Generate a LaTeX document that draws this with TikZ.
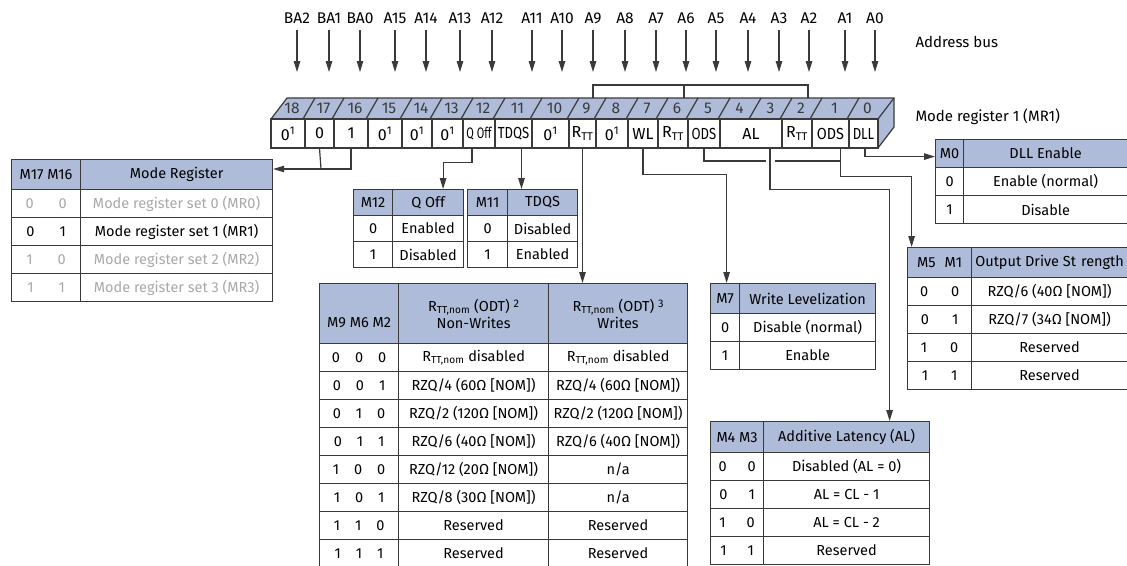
\documentclass[tikz,border=0pt]{standalone}
\usepackage{fontspec}
\setmainfont{Fira Sans}
\usepackage{xcolor}
\definecolor{regBlue}{HTML}{AEBCDA}
\definecolor{regLine}{HTML}{3A3A3A}
\definecolor{regGray}{HTML}{A8A8A8}
\usepackage{tikz}
\usetikzlibrary{arrows.meta}

\newcommand{\odtnote}[1]{\raisebox{4pt}{\fontsize{11}{13}\selectfont #1}}

\begin{document}
\begin{tikzpicture}[x=1pt, y=-1pt, >={Triangle[length=11pt,width=6.5pt]},
    tcell/.style={draw=regLine, line width=1.2pt, inner sep=0pt, anchor=north west,
      minimum height=28pt, align=center, font=\fontsize{14.5}{17}\selectfont},
    thead/.style={tcell, fill=regBlue},
    wire/.style={regLine, line width=1.2pt},
    addr/.style={font=\fontsize{15.5}{17}\selectfont, inner sep=1pt, minimum height=24pt},
    bit/.style={font=\fontsize{16}{18}\selectfont, inner sep=0pt, minimum height=29pt},
    topnum/.style={font=\fontsize{15.5}{17}\selectfont, inner sep=0pt, text=regLine}]
  \useasboundingbox (0,0) rectangle (1127,565);

  % ---- address bus ----
  \foreach \lab/\x in {BA2/297,BA1/329,BA0/360,A15/395,A14/426,A13/460,A12/492,A11/532,A10/562,A9/593,A8/625,A7/656,A6/686,A5/716,A4/748,A3/779,A2/809,A1/845,A0/875} {
    \node[addr] (a\lab) at (\x,18) {\lab};
    \coordinate (t\lab) at (\x,72);
    \draw[wire,->] (a\lab) -- (t\lab);
  }
  \node[anchor=west, font=\fontsize{15}{17}\selectfont] (busLab) at (912,42) {Address bus};
  \node[anchor=west, font=\fontsize{15}{17}\selectfont] (mr1Lab) at (912,117) {Mode register 1 (MR1)};

  % ---- register bar ----
  \fill[regBlue] (271,119) -- (287,98) -- (894,98) -- (894,127) -- (878,148) -- (878,119) -- cycle;
  \draw[wire] (271,119) -- (287,98) -- (894,98) -- (894,127) -- (878,148);
  \draw[wire] (878,119) -- (894,98);
  \draw[wire, fill=white] (271,119) rectangle (878,148);
  \foreach \x in {305,334,368,402,432,463,495,532,569,596,628,658,688,720,782,812,849}
    \draw[wire] (\x,119) -- (\x,148);
  \foreach \x in {305,334,368,402,432,463,495,532,569,596,628,658,688,720,751,782,812,849}
    \draw[wire] (\x-2,119) -- (\x+10,98);
  \foreach \xa/\xb/\n in {271/305/18, 305/334/17, 334/368/16, 368/402/15, 402/432/14, 432/463/13, 463/495/12, 495/532/11, 532/569/10, 569/596/9, 596/628/8, 628/658/7, 658/688/6, 688/720/5, 720/751/4, 751/782/3, 782/812/2, 812/849/1, 849/878/0}
    \node[topnum] (n\n) at ({(\xa+\xb)/2+4},108.5) {\n};
  \foreach \xa/\xb/\n/\txt in {271/305/18/{0\textsuperscript{1}}, 305/334/17/0, 334/368/16/1, 368/402/15/{0\textsuperscript{1}}, 402/432/14/{0\textsuperscript{1}}, 432/463/13/{0\textsuperscript{1}}, 463/495/12/{\scalebox{0.68}[0.95]{Q Off}}, 495/532/11/{\scalebox{0.82}[1]{TDQS}}, 532/569/10/{0\textsuperscript{1}}, 569/596/9/{R\textsubscript{TT}}, 596/628/8/{0\textsuperscript{1}}, 628/658/7/WL, 658/688/6/{R\textsubscript{TT}}, 688/720/5/{\scalebox{0.82}[1]{ODS}}, 720/782/43/AL, 782/812/2/{R\textsubscript{TT}}, 812/849/1/{\scalebox{0.9}[1]{ODS}}, 849/878/0/{\scalebox{0.82}[1]{DLL}}}
    \node[bit] (c\n) at ({(\xa+\xb)/2},133.5) {\txt};

  % R_TT bits grouped on top
  \coordinate (r9) at (593,98);
  \coordinate (r6) at (684,98);
  \coordinate (r2) at (808,98);
  \draw[wire] (r9) -- ++(0,-13) -| (r2);
  \draw[wire] (r6) -- ++(0,-13);

  % ---- mode register select ----
  \node[thead, minimum width=69pt, minimum height=30pt] (mrH1) at (11,159) {M17 M16};
  \node[thead, minimum width=192pt, minimum height=30pt] (mrH2) at (80,159) {Mode Register};
  \foreach \ma/\mb/\txt/\col [count=\i] in {0/0/{Mode register set 0 (MR0)}/regGray, 0/1/{Mode register set 1 (MR1)}/black, 1/0/{Mode register set 2 (MR2)}/regGray, 1/1/{Mode register set 3 (MR3)}/regGray} {
    \node[tcell, text=\col, minimum width=69pt] (mrA\i) at (11,{161+28*\i}) {\ma\hspace{25pt}\mb};
    \node[tcell, text=\col, minimum width=192pt] (mrB\i) at (80,{161+28*\i}) {\txt};
  }

  % ---- Q Off / TDQS ----
  \node[thead, minimum width=39pt, minimum height=26pt] (qoH1) at (353,189) {M12};
  \node[thead, minimum width=71pt, minimum height=26pt] (qoH2) at (392,189) {Q Off};
  \foreach \m/\txt [count=\i] in {0/Enabled, 1/Disabled} {
    \node[tcell, minimum width=39pt, minimum height=26pt] (qoA\i) at (353,{189+26*\i}) {\m};
    \node[tcell, minimum width=71pt, minimum height=26pt] (qoB\i) at (392,{189+26*\i}) {\txt};
  }
  \node[thead, minimum width=40pt, minimum height=26pt] (tdH1) at (467,189) {M11};
  \node[thead, minimum width=70pt, minimum height=26pt] (tdH2) at (507,189) {TDQS};
  \foreach \m/\txt [count=\i] in {0/Disabled, 1/Enabled} {
    \node[tcell, minimum width=40pt, minimum height=26pt] (tdA\i) at (467,{189+26*\i}) {\m};
    \node[tcell, minimum width=70pt, minimum height=26pt] (tdB\i) at (507,{189+26*\i}) {\txt};
  }

  % ---- R_TT,nom ----
  \node[thead, minimum width=79pt, minimum height=60pt] (rtH1) at (319,283) {\strut\\M9 M6 M2};
  \node[thead, minimum width=150pt, minimum height=60pt] (rtH2) at (398,283) {R\textsubscript{TT,nom} (ODT) \odtnote{2}\\Non-Writes};
  \node[thead, minimum width=139pt, minimum height=60pt] (rtH3) at (548,283) {R\textsubscript{TT,nom} (ODT) \odtnote{3}\\Writes};
  \foreach \ma/\mb/\mc/\txa/\txb [count=\i] in {
      0/0/0/{R\textsubscript{TT,nom} disabled}/{R\textsubscript{TT,nom} disabled},
      0/0/1/{RZQ/4 (60Ω [NOM])}/{RZQ/4 (60Ω [NOM])},
      0/1/0/{RZQ/2 (120Ω [NOM])}/{RZQ/2 (120Ω [NOM])},
      0/1/1/{RZQ/6 (40Ω [NOM])}/{RZQ/6 (40Ω [NOM])},
      1/0/0/{RZQ/12 (20Ω [NOM])}/{n/a},
      1/0/1/{RZQ/8 (30Ω [NOM])}/{n/a},
      1/1/0/Reserved/Reserved,
      1/1/1/Reserved/Reserved} {
    \node[tcell, minimum width=79pt] (rtA\i) at (319,{315+28*\i}) {\ma\hspace{15pt}\mb\hspace{15pt}\mc};
    \node[tcell, minimum width=150pt] (rtB\i) at (398,{315+28*\i}) {\txa};
    \node[tcell, minimum width=139pt] (rtC\i) at (548,{315+28*\i}) {\txb};
  }

  % ---- write levelization ----
  \node[thead, minimum width=29pt, minimum height=30pt] (wlH1) at (710,283) {M7};
  \node[thead, minimum width=136pt, minimum height=30pt] (wlH2) at (739,283) {Write Levelization};
  \foreach \m/\txt [count=\i] in {0/Disable (normal), 1/Enable} {
    \node[tcell, minimum width=29pt] (wlA\i) at (710,{285+28*\i}) {\m};
    \node[tcell, minimum width=136pt] (wlB\i) at (739,{285+28*\i}) {\txt};
  }

  % ---- additive latency ----
  \node[thead, minimum width=53pt, minimum height=31pt] (alH1) at (710,421) {M4 M3};
  \node[thead, minimum width=166pt, minimum height=31pt] (alH2) at (763,421) {Additive Latency (AL)};
  \foreach \ma/\mb/\txt [count=\i] in {0/0/{Disabled (AL = 0)}, 0/1/{AL = CL - 1}, 1/0/{AL = CL - 2}, 1/1/Reserved} {
    \node[tcell, minimum width=53pt] (alA\i) at (710,{424+28*\i}) {\ma\hspace{21pt}\mb};
    \node[tcell, minimum width=166pt] (alB\i) at (763,{424+28*\i}) {\txt};
  }

  % ---- output drive strength ----
  \node[thead, minimum width=64pt, minimum height=30pt] (odH1) at (907,247) {M5\hspace{9pt}M1};
  \node[thead, minimum width=156pt, minimum height=30pt] (odH2) at (971,247) {Output Drive St\hspace{5pt}rength};
  \foreach \ma/\mb/\txt [count=\i] in {0/0/{RZQ/6 (40Ω [NOM])}, 0/1/{RZQ/7 (34Ω [NOM])}, 1/0/Reserved, 1/1/Reserved} {
    \node[tcell, minimum width=64pt] (odA\i) at (907,{249+28*\i}) {\ma\hspace{23pt}\mb};
    \node[tcell, minimum width=156pt] (odB\i) at (971,{249+28*\i}) {\txt};
  }

  % ---- DLL enable ----
  \node[thead, minimum width=28pt] (dlH1) at (935,139) {M0};
  \node[thead, minimum width=164pt] (dlH2) at (963,139) {DLL Enable};
  \foreach \m/\txt [count=\i] in {0/Enable (normal), 1/Disable} {
    \node[tcell, minimum width=28pt] (dlA\i) at (935,{139+28*\i}) {\m};
    \node[tcell, minimum width=164pt] (dlB\i) at (963,{139+28*\i}) {\txt};
  }

  % ---- connectors ----
  \coordinate (mrJoin) at (321,169);
  \draw[wire] (c17.south) -- (mrJoin);
  \draw[wire,->] (c16.south) |- (mrJoin) -- (mrJoin -| mrH2.east);
  \draw[wire,->] ([xshift=-7pt]c12.south) -- ++(0,14) -| ([xshift=15pt]qoH2.north);
  \draw[wire,->] ([xshift=8pt]c11.south) -- ([xshift=8pt]c11.south |- tdH2.north);
  \draw[wire,->] (c9.south) -- (c9.south |- rtH3.north);
  \draw[wire,->] (c7.south) -- ++(0,26) -| ([xshift=1.5pt]wlH1.north);
  \coordinate (odsJoin) at (841,161);
  \draw[wire] (c5.south) |- (odsJoin);
  \fill[white] (766,157) rectangle (775,165);
  \draw[wire,->] ([xshift=10pt]c1.south) -- ++(0,28) -| ([xshift=-28pt]odH1.north);
  \draw[wire,->] ([xshift=19pt]c43.south) -- ++(0,41) -| ([xshift=43pt]alH2.north);
  \draw[wire,->] ([xshift=1.5pt]c0.south) |- ([yshift=-3pt]dlH1.west);
\end{tikzpicture}
\end{document}
